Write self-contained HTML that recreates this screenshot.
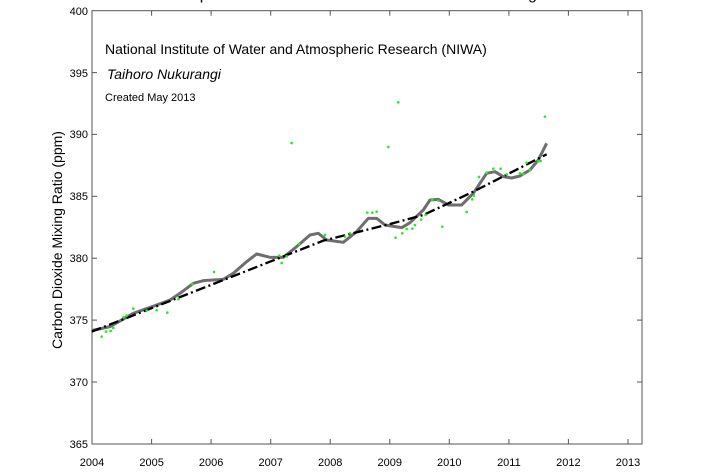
<!DOCTYPE html>
<html><head><style>
html,body{margin:0;padding:0;background:#fff;}
svg{display:block;font-family:"Liberation Sans",Arial,sans-serif;}
</style></head><body>
<svg width="710" height="473" viewBox="0 0 710 473" xmlns="http://www.w3.org/2000/svg">
<rect width="710" height="473" fill="#fff"/>
<text x="367" y="-1" font-size="16" text-anchor="middle">Atmospheric Carbon Dioxide Measurements at Baring Head</text>
<rect x="92" y="10.7" width="550" height="433.3" fill="none" stroke="#555" stroke-width="1"/>
<g stroke="#555" stroke-width="1">
<line x1="92" y1="444" x2="97" y2="444"/><line x1="92" y1="382" x2="97" y2="382"/><line x1="92" y1="320.1" x2="97" y2="320.1"/><line x1="92" y1="258.2" x2="97" y2="258.2"/><line x1="92" y1="196.3" x2="97" y2="196.3"/><line x1="92" y1="134.4" x2="97" y2="134.4"/><line x1="92" y1="72.6" x2="97" y2="72.6"/>
<line x1="642" y1="382" x2="637" y2="382"/><line x1="642" y1="320.1" x2="637" y2="320.1"/><line x1="642" y1="258.2" x2="637" y2="258.2"/><line x1="642" y1="196.3" x2="637" y2="196.3"/><line x1="642" y1="134.4" x2="637" y2="134.4"/><line x1="642" y1="72.6" x2="637" y2="72.6"/>
<line x1="151.6" y1="444" x2="151.6" y2="439"/><line x1="211.1" y1="444" x2="211.1" y2="439"/><line x1="270.7" y1="444" x2="270.7" y2="439"/><line x1="330.2" y1="444" x2="330.2" y2="439"/><line x1="389.8" y1="444" x2="389.8" y2="439"/><line x1="449.3" y1="444" x2="449.3" y2="439"/><line x1="508.9" y1="444" x2="508.9" y2="439"/><line x1="568.4" y1="444" x2="568.4" y2="439"/><line x1="628" y1="444" x2="628" y2="439"/>
<line x1="151.6" y1="10.7" x2="151.6" y2="15.7"/><line x1="211.1" y1="10.7" x2="211.1" y2="15.7"/><line x1="270.7" y1="10.7" x2="270.7" y2="15.7"/><line x1="330.2" y1="10.7" x2="330.2" y2="15.7"/><line x1="389.8" y1="10.7" x2="389.8" y2="15.7"/><line x1="449.3" y1="10.7" x2="449.3" y2="15.7"/><line x1="508.9" y1="10.7" x2="508.9" y2="15.7"/><line x1="568.4" y1="10.7" x2="568.4" y2="15.7"/><line x1="628" y1="10.7" x2="628" y2="15.7"/>
</g>
<g font-size="11" text-anchor="end" fill="#000">
<text x="88" y="448">365</text><text x="88" y="386">370</text><text x="88" y="324">375</text><text x="88" y="262">380</text><text x="88" y="200">385</text><text x="88" y="138">390</text><text x="88" y="77">395</text><text x="88" y="15">400</text>
</g>
<g font-size="11" text-anchor="middle" fill="#000">
<text x="92" y="466">2004</text><text x="151.6" y="466">2005</text><text x="211.1" y="466">2006</text><text x="270.7" y="466">2007</text><text x="330.2" y="466">2008</text><text x="389.8" y="466">2009</text><text x="449.3" y="466">2010</text><text x="508.9" y="466">2011</text><text x="568.4" y="466">2012</text><text x="628" y="466">2013</text>
</g>
<text transform="translate(62,240) rotate(-90)" font-size="14" text-anchor="middle">Carbon Dioxide Mixing Ratio (ppm)</text>
<text x="105" y="54" font-size="14">National Institute of Water and Atmospheric Research (NIWA)</text>
<text x="107" y="79" font-size="14" font-style="italic">Taihoro Nukurangi</text>
<text x="105" y="101" font-size="11">Created May 2013</text>
<g transform="translate(90,90) scale(0.3333)">
<polyline fill="none" stroke="#6e6e6e" stroke-width="9" stroke-linejoin="round" points="5,722 60,710 130,670 200,645 240,630 270,610 310,580 340,572 400,568 430,550 470,515 500,492 540,502 580,502 620,470 660,435 685,430 710,450 760,457 800,425 835,385 860,385 885,405 935,413 960,398 1000,360 1020,330 1045,328 1075,345 1115,345 1150,310 1190,250 1215,245 1240,260 1265,264 1290,258 1320,240 1345,210 1370,160"/>
<polyline fill="none" points="5,725 350,590 700,452 900,402 1000,375 1150,305 1370,193" stroke="#000" stroke-width="7" stroke-dasharray="30,10,6,10"/>
<g fill="#22ee22">
<circle cx="35" cy="740" r="4"/><circle cx="48" cy="725" r="4"/><circle cx="62" cy="723" r="4"/><circle cx="70" cy="714" r="4"/><circle cx="100" cy="682" r="4"/><circle cx="110" cy="677" r="4"/><circle cx="130" cy="656" r="4"/><circle cx="170" cy="662" r="4"/><circle cx="200" cy="661" r="4"/><circle cx="232" cy="668" r="4"/><circle cx="265" cy="628" r="4"/><circle cx="307" cy="582" r="4"/><circle cx="372" cy="546" r="4"/><circle cx="568" cy="497" r="4"/><circle cx="575" cy="519" r="4"/><circle cx="590" cy="499" r="4"/><circle cx="605" cy="159" r="4"/><circle cx="627" cy="462" r="4"/><circle cx="705" cy="435" r="4"/><circle cx="765" cy="440" r="4"/><circle cx="780" cy="430" r="4"/><circle cx="832" cy="368" r="4"/><circle cx="847" cy="368" r="4"/><circle cx="860" cy="365" r="4"/><circle cx="895" cy="171" r="4"/><circle cx="925" cy="37" r="4"/><circle cx="917" cy="443" r="4"/><circle cx="937" cy="430" r="4"/><circle cx="950" cy="417" r="4"/><circle cx="967" cy="416" r="4"/><circle cx="975" cy="405" r="4"/><circle cx="993" cy="389" r="4"/><circle cx="1007" cy="375" r="4"/><circle cx="1027" cy="330" r="4"/><circle cx="1045" cy="332" r="4"/><circle cx="1057" cy="410" r="4"/><circle cx="1130" cy="366" r="4"/><circle cx="1147" cy="328" r="4"/><circle cx="1152" cy="317" r="4"/><circle cx="1167" cy="261" r="4"/><circle cx="1190" cy="248" r="4"/><circle cx="1210" cy="236" r="4"/><circle cx="1232" cy="236" r="4"/><circle cx="1250" cy="253" r="4"/><circle cx="1290" cy="250" r="4"/><circle cx="1300" cy="252" r="4"/><circle cx="1310" cy="218" r="4"/><circle cx="1320" cy="240" r="4"/><circle cx="1345" cy="214" r="4"/><circle cx="1352" cy="213" r="4"/><circle cx="1365" cy="80" r="4"/>
</g>
</g>
</svg>
</body></html>
